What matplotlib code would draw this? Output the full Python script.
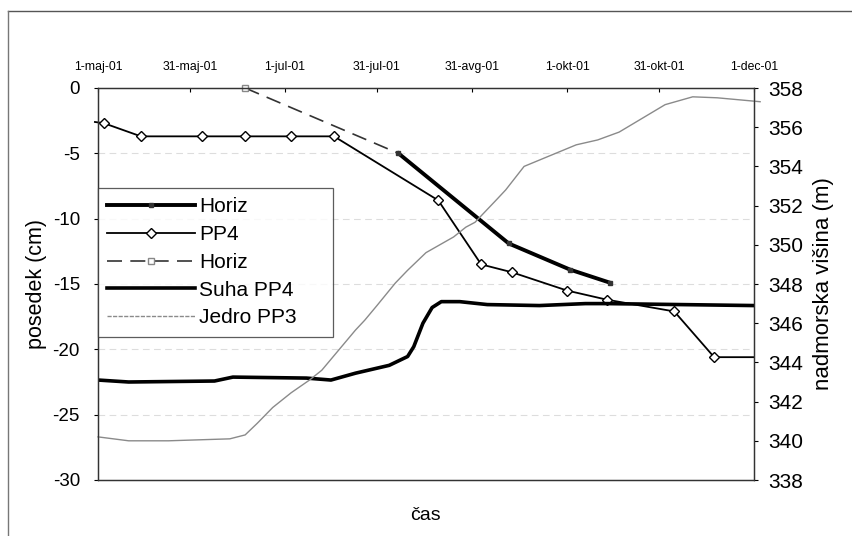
import numpy as np
import pandas as pd
import matplotlib
matplotlib.use("Agg")
import matplotlib.pyplot as plt
from matplotlib.lines import Line2D

plt.rcParams['font.family'] = ['Liberation Sans', 'DejaVu Sans']
plt.rcParams['axes.unicode_minus'] = False

# posedek (cm), left axis
pp4_dates = ["2001-04-30", "2001-05-03", "2001-05-15", "2001-06-04", "2001-06-18",
             "2001-07-03", "2001-07-17", "2001-08-20", "2001-09-03", "2001-09-13",
             "2001-10-01", "2001-10-14", "2001-11-05", "2001-11-18", "2001-12-01"]
pp4_vals = [-2.6, -2.7, -3.7, -3.7, -3.7, -3.7, -3.7, -8.6, -13.5, -14.1,
            -15.5, -16.2, -17.1, -20.6, -20.6]

horiz_d_dates = ["2001-06-18", "2001-08-07"]
horiz_d_vals = [0.0, -5.0]

horiz_dates = ["2001-08-07", "2001-09-12", "2001-10-02", "2001-10-15"]
horiz_vals = [-5.0, -11.9, -13.9, -14.9]

# nadmorska visina (m), right axis
suha_dates = ["2001-05-01", "2001-05-11", "2001-06-08", "2001-06-14", "2001-07-08",
              "2001-07-16", "2001-07-24", "2001-08-04", "2001-08-10", "2001-08-12",
              "2001-08-15", "2001-08-18", "2001-08-21", "2001-08-27", "2001-09-05",
              "2001-09-22", "2001-10-07", "2001-10-14", "2001-12-01"]
suha_vals = [343.1, 343.0, 343.05, 343.25, 343.2, 343.1, 343.45, 343.85, 344.3, 344.8,
             346.0, 346.8, 347.1, 347.1, 346.95, 346.9, 347.0, 347.0, 346.9]

jedro_dates = ["2001-05-01", "2001-05-11", "2001-05-24", "2001-06-13", "2001-06-18",
               "2001-06-22", "2001-06-27", "2001-07-03", "2001-07-09", "2001-07-13",
               "2001-07-24", "2001-07-27", "2001-07-31", "2001-08-06", "2001-08-10",
               "2001-08-16", "2001-08-25", "2001-08-29", "2001-09-01", "2001-09-08",
               "2001-09-11", "2001-09-17", "2001-10-04", "2001-10-11", "2001-10-18",
               "2001-11-02", "2001-11-11", "2001-11-19", "2001-12-03"]
jedro_vals = [340.2, 340.0, 340.0, 340.1, 340.3, 340.9, 341.7, 342.45, 343.1, 343.6,
              345.65, 346.15, 346.9, 348.05, 348.7, 349.6, 350.4, 350.9, 351.15, 352.3,
              352.8, 354.0, 355.1, 355.35, 355.75, 357.15, 357.55, 357.5, 357.3]

tick_dates = ["2001-05-01", "2001-05-31", "2001-07-01", "2001-07-31",
              "2001-08-31", "2001-10-01", "2001-10-31", "2001-12-01"]
tick_labels = ["1-maj-01", "31-maj-01", "1-jul-01", "31-jul-01",
               "31-avg-01", "1-okt-01", "31-okt-01", "1-dec-01"]

fig = plt.figure(figsize=(8.53, 5.36), dpi=100)
ax1 = fig.add_axes([98/853, 1-480/536, (754-98)/853, (480-88)/536])
ax2 = ax1.twinx()

for y in [-5, -10, -15, -20, -25]:
    ax1.axhline(y, color='#dddddd', lw=0.8, ls=(0, (6, 4)), zorder=0)

ax1.plot(pd.to_datetime(pp4_dates), pp4_vals, color='black', lw=1.3,
         marker='D', markersize=5.5, markerfacecolor='white', markeredgecolor='black',
         markevery=list(range(1, 14)), clip_on=False)
ax1.plot(pd.to_datetime(horiz_d_dates), horiz_d_vals, color='#333333', lw=1.2,
         ls=(0, (9, 5)), marker='s', markersize=5, markerfacecolor='white',
         markeredgecolor='#888888', markevery=[0], clip_on=False)
ax1.plot(pd.to_datetime(horiz_dates), horiz_vals, color='black', lw=2.8,
         marker='s', markersize=3.5, markerfacecolor='#333333', markeredgecolor='#333333')

ax2.plot(pd.to_datetime(suha_dates), suha_vals, color='black', lw=2.6)
ax2.plot(pd.to_datetime(jedro_dates), jedro_vals, color='#8a8a8a', lw=1.0, clip_on=False)

start = pd.Timestamp("2001-05-01")
end = pd.Timestamp("2001-12-01")
ax1.set_xlim(start, end)
ax1.set_ylim(-30, 0)
ax2.set_ylim(338, 358)
ax1.set_yticks(range(-30, 1, 5))
ax2.set_yticks(range(338, 359, 2))

ax1.xaxis.tick_top()
ax1.set_xticks(pd.to_datetime(tick_dates))
ax1.set_xticklabels(tick_labels, fontsize=8.8)
ax1.tick_params(axis='x', direction='in', length=3, pad=11)
ax1.tick_params(axis='y', direction='out', length=3, labelsize=13.5, pad=10)
ax2.tick_params(axis='y', direction='out', length=3, labelsize=15, pad=7)

for ax in (ax1, ax2):
    for s in ax.spines.values():
        s.set_linewidth(0.9)
        s.set_color('#333333')

ax1.set_ylabel("posedek (cm)", fontsize=15.5, labelpad=4)
ax2.set_ylabel("nadmorska višina (m)", fontsize=16, labelpad=7)
fig.text(425/853, 1-515/536, "čas", fontsize=14, ha='center', va='center')

handles = [
    Line2D([], [], color='black', lw=2.8, marker='s', markersize=3.5,
           markerfacecolor='#333333', markeredgecolor='#333333'),
    Line2D([], [], color='black', lw=1.3, marker='D', markersize=5.5,
           markerfacecolor='white', markeredgecolor='black'),
    Line2D([], [], color='#333333', lw=1.2, ls=(0, (9, 5)), marker='s', markersize=5,
           markerfacecolor='white', markeredgecolor='#888888'),
    Line2D([], [], color='black', lw=2.6),
    Line2D([], [], color='#8a8a8a', lw=1.0, ls=(0, (3, 1))),
]
labels = ["Horiz", "PP4", "Horiz", "Suha PP4", "Jedro PP3"]
leg = ax2.legend(handles, labels, loc='upper left',
                 bbox_to_anchor=(0, (480-188)/392, (333-98)/656, 0.0), mode='expand',
                 borderaxespad=0, fontsize=15, frameon=True, fancybox=False,
                 handlelength=4.2, handletextpad=0.2, labelspacing=0.42,
                 borderpad=0.45)
leg.get_frame().set_edgecolor('#333333')
leg.get_frame().set_linewidth(0.9)

# outer border (top and left visible in the scan)
fig.add_artist(Line2D([8/853, 1], [1-11/536, 1-11/536], color='#555555', lw=1.0))
fig.add_artist(Line2D([8/853, 8/853], [0, 1-11/536], color='#777777', lw=1.0))

fig.savefig("out.png", dpi=100)
